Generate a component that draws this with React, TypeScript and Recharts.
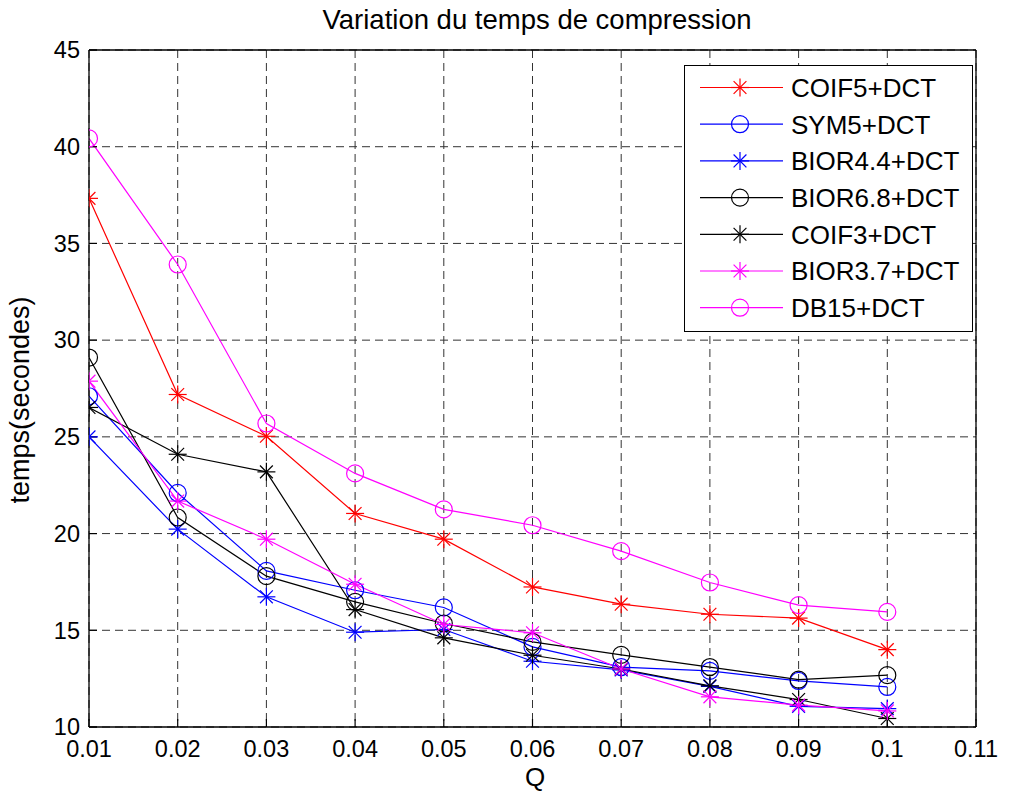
import React from 'react';
import { LineChart, Line, XAxis, YAxis, CartesianGrid, Legend, Customized, Label } from 'recharts';

const FONT = '"Liberation Sans", Arial, Helvetica, sans-serif';

const Q = [0.01, 0.02, 0.03, 0.04, 0.05, 0.06, 0.07, 0.08, 0.09, 0.1];
const X_TICKS = [0.01, 0.02, 0.03, 0.04, 0.05, 0.06, 0.07, 0.08, 0.09, 0.1, 0.11];
const Y_TICKS = [10, 15, 20, 25, 30, 35, 40, 45];

const COIF5 = [37.33, 27.19, 25.03, 21.04, 19.71, 17.24, 16.35, 15.83, 15.63, 14.0];
const SYM5 = [27.1, 22.1, 18.07, 17.07, 16.18, 14.14, 13.1, 12.9, 12.38, 12.07];
const BIOR44 = [25.0, 20.23, 16.73, 14.9, 15.04, 13.4, 12.95, 12.1, 11.07, 10.95];
const BIOR68 = [29.1, 20.83, 17.8, 16.47, 15.35, 14.4, 13.73, 13.1, 12.45, 12.68];
const COIF3 = [26.52, 24.1, 23.19, 16.07, 14.61, 13.71, 13.0, 12.13, 11.42, 10.44];
const BIOR37 = [27.88, 21.68, 19.71, 17.38, 15.3, 14.87, 13.0, 11.56, 11.13, 10.83];
const DB15 = [40.43, 33.91, 25.69, 23.11, 21.25, 20.43, 19.09, 17.47, 16.3, 15.95];

const SERIES = [
  { key: 'coif5', name: 'COIF5+DCT', color: '#ff0000', marker: 'star', values: COIF5 },
  { key: 'sym5', name: 'SYM5+DCT', color: '#0000ff', marker: 'circle', values: SYM5 },
  { key: 'bior44', name: 'BIOR4.4+DCT', color: '#0000ff', marker: 'star', values: BIOR44 },
  { key: 'bior68', name: 'BIOR6.8+DCT', color: '#000000', marker: 'circle', values: BIOR68 },
  { key: 'coif3', name: 'COIF3+DCT', color: '#000000', marker: 'star', values: COIF3 },
  { key: 'bior37', name: 'BIOR3.7+DCT', color: '#ff00ff', marker: 'star', values: BIOR37 },
  { key: 'db15', name: 'DB15+DCT', color: '#ff00ff', marker: 'circle', values: DB15 },
];

const data = Q.map((q, i) => {
  const row: Record<string, number> = { q };
  SERIES.forEach((s) => {
    row[s.key] = s.values[i];
  });
  return row;
});

const W = 1015;
const H = 793;
const MARGIN = { top: 49, right: 38, bottom: 6, left: 19 };

function Marker({ cx, cy, color, marker }: { cx: number; cy: number; color: string; marker: string }) {
  if (marker === 'circle') {
    return <circle cx={cx} cy={cy} r={8.5} fill="none" stroke={color} strokeWidth={1.2} />;
  }
  const r = 9;
  const d = 6.4;
  return (
    <g stroke={color} strokeWidth={1.2}>
      <line x1={cx - r} y1={cy} x2={cx + r} y2={cy} />
      <line x1={cx} y1={cy - r} x2={cx} y2={cy + r} />
      <line x1={cx - d} y1={cy - d} x2={cx + d} y2={cy + d} />
      <line x1={cx - d} y1={cy + d} x2={cx + d} y2={cy - d} />
    </g>
  );
}

function makeDot(color: string, marker: string, key: string) {
  return (props: any) => {
    const { cx, cy, index } = props;
    if (cx == null || cy == null) return <g key={`${key}-${index}`} />;
    return (
      <g key={`${key}-${index}`}>
        <Marker cx={cx} cy={cy} color={color} marker={marker} />
      </g>
    );
  };
}

function LegendBox() {
  const w = 289;
  const h = 267;
  return (
    <div
      style={{
        width: w,
        height: h,
        boxSizing: 'border-box',
        border: '1.3px solid #000',
        background: '#fff',
      }}
    >
      <svg width={w - 3} height={h - 3} style={{ display: 'block' }}>
        {SERIES.map((s, i) => {
          const y = 21.5 + i * 36.7;
          return (
            <g key={s.key}>
              <line x1={15} y1={y} x2={98} y2={y} stroke={s.color} strokeWidth={1.2} />
              <Marker cx={55} cy={y} color={s.color} marker={s.marker} />
              <text x={106} y={y + 9.3} fontSize={26} fontFamily={FONT} fill="#000">
                {s.name}
              </text>
            </g>
          );
        })}
      </svg>
    </div>
  );
}

const fmtX = (v: number) => String(Number(v.toFixed(2)));

export default function App() {
  return (
    <div style={{ width: W, height: H, marginLeft: -8, marginTop: -8 }}>
      <LineChart width={W} height={H} data={data} margin={MARGIN}>
        <CartesianGrid stroke="#333" strokeDasharray="8 5" strokeWidth={1} />
        <XAxis
          dataKey="q"
          type="number"
          domain={[0.01, 0.11]}
          ticks={X_TICKS}
          interval={0}
          allowDataOverflow
          height={60}
          tickSize={-8}
          tickMargin={21}
          tickFormatter={fmtX}
          axisLine={{ stroke: '#000', strokeWidth: 1.3 }}
          tickLine={{ stroke: '#000', strokeWidth: 1.2 }}
          tick={{ fill: '#000', fontSize: 23.5, fontFamily: FONT }}
        >
          <Label
            content={() => (
              <text x={535} y={786} textAnchor="middle" fontSize={26} fontFamily={FONT} fill="#000">
                Q
              </text>
            )}
          />
        </XAxis>
        <XAxis
          xAxisId="top"
          orientation="top"
          type="number"
          domain={[0.01, 0.11]}
          ticks={X_TICKS}
          interval={0}
          allowDataOverflow
          height={1}
          tick={false}
          tickSize={-8}
          axisLine={{ stroke: '#000', strokeWidth: 1.3 }}
          tickLine={{ stroke: '#000', strokeWidth: 1.2 }}
        />
        <YAxis
          type="number"
          domain={[10, 45]}
          ticks={Y_TICKS}
          interval={0}
          allowDataOverflow
          width={70}
          tickSize={-8}
          tickMargin={17}
          axisLine={{ stroke: '#000', strokeWidth: 1.3 }}
          tickLine={{ stroke: '#000', strokeWidth: 1.2 }}
          tick={{ fill: '#000', fontSize: 23.5, fontFamily: FONT }}
        >
          <Label
            content={() => (
              <text
                x={29.3}
                y={400}
                transform="rotate(-90 29.3 400)"
                textAnchor="middle"
                fontSize={27}
                fontFamily={FONT}
                fill="#000"
              >
                temps(secondes)
              </text>
            )}
          />
        </YAxis>
        <YAxis
          yAxisId="right"
          orientation="right"
          type="number"
          domain={[10, 45]}
          ticks={Y_TICKS}
          interval={0}
          allowDataOverflow
          width={1}
          tick={false}
          tickSize={-8}
          axisLine={{ stroke: '#000', strokeWidth: 1.3 }}
          tickLine={{ stroke: '#000', strokeWidth: 1.2 }}
        />
        {SERIES.map((s) => (
          <Line
            key={s.key}
            type="linear"
            dataKey={s.key}
            name={s.name}
            stroke={s.color}
            strokeWidth={1.2}
            dot={makeDot(s.color, s.marker, s.key)}
            activeDot={false}
            isAnimationActive={false}
          />
        ))}
        <Legend
          layout="vertical"
          align="center"
          verticalAlign="middle"
          content={() => <LegendBox />}
          wrapperStyle={{ position: 'absolute', left: 684, top: 65, width: 289, height: 267 }}
        />
        <Customized
          component={() => (
            <text x={537} y={29.3} textAnchor="middle" fontSize={27.5} fontFamily={FONT} fill="#000">
              Variation du temps de compression
            </text>
          )}
        />
      </LineChart>
    </div>
  );
}
